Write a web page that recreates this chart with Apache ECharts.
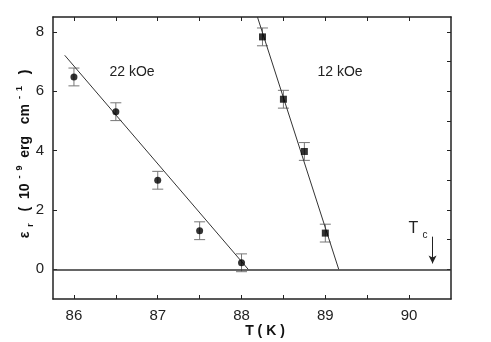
<!DOCTYPE html>
<html>
<head>
<meta charset="utf-8">
<script src="https://cdn.jsdelivr.net/npm/echarts@6/dist/echarts.min.js"></script>
<style>
  html, body { margin: 0; padding: 0; background: #fff; }
  #chart { width: 491px; height: 342px; }
</style>
</head>
<body>
<div id="chart"></div>
<script>
// 22 kOe 数据 (圆点)
const temp22 = [86, 86.5, 87, 87.5, 88];
const eps22 = [6.48, 5.31, 3.0, 1.3, 0.22];
const err22 = [0.3, 0.3, 0.3, 0.3, 0.3];
// 12 kOe 数据 (方块)
const temp12 = [88.25, 88.5, 88.75, 89];
const eps12 = [7.83, 5.73, 3.97, 1.22];
const err12 = [0.3, 0.3, 0.3, 0.3];
// 拟合直线端点
const fit22T = [85.89, 88.08];
const fit22V = [7.21, 0];
const fit12T = [88.19, 89.16];
const fit12V = [8.5, 0];
// Tc 位置
const tcT = 90.28;
// 刻度
const xLabels = [86, 87, 88, 89, 90];
const xTicks = [86, 86.5, 87, 87.5, 88, 88.5, 89, 89.5, 90];
const yLabels = [0, 2, 4, 6, 8];
const yTicksRight = [0, 1, 2, 3, 4, 5, 6, 7, 8];

const chart = echarts.init(document.getElementById('chart'));
const font = 'Liberation Sans, Arial, sans-serif';

// 误差棒
function errorSeries(temps, vals, errs) {
  return {
    type: 'custom',
    data: temps.map((t, i) => [t, vals[i] - errs[i], vals[i] + errs[i]]),
    renderItem: (params, api) => {
      const lo = api.coord([api.value(0), api.value(1)]);
      const hi = api.coord([api.value(0), api.value(2)]);
      const w = 5.5;
      const style = { stroke: '#777', lineWidth: 1 };
      return {
        type: 'group',
        children: [
          { type: 'line', shape: { x1: lo[0], y1: lo[1], x2: hi[0], y2: hi[1] }, style },
          { type: 'line', shape: { x1: lo[0] - w, y1: lo[1], x2: lo[0] + w, y2: lo[1] }, style },
          { type: 'line', shape: { x1: hi[0] - w, y1: hi[1], x2: hi[0] + w, y2: hi[1] }, style },
        ],
      };
    },
    z: 2,
    silent: true,
  };
}

const axisLine = { show: true, onZero: false, lineStyle: { color: '#222', width: 1.5 } };

const option = {
  animation: false,
  grid: { left: 53, right: 40, top: 17, bottom: 43 },
  xAxis: [
    {
      type: 'value', min: 85.75, max: 90.5, position: 'bottom',
      axisLine,
      splitLine: { show: false },
      axisTick: { inside: true, length: 4, customValues: xTicks, lineStyle: { color: '#222' } },
      axisLabel: { customValues: xLabels, color: '#222', fontSize: 15, fontFamily: font, margin: 9 },
    },
    {
      type: 'value', min: 85.75, max: 90.5, position: 'top',
      axisLine,
      splitLine: { show: false },
      axisTick: { inside: true, length: 4, customValues: xTicks, lineStyle: { color: '#222' } },
      axisLabel: { show: false },
    },
  ],
  yAxis: [
    {
      type: 'value', min: -1, max: 8.5, position: 'left',
      axisLine,
      splitLine: { show: false },
      axisTick: { inside: true, length: 4, customValues: yLabels, lineStyle: { color: '#222' } },
      axisLabel: { customValues: yLabels, color: '#222', fontSize: 15, fontFamily: font, margin: 9 },
    },
    {
      type: 'value', min: -1, max: 8.5, position: 'right',
      axisLine,
      splitLine: { show: false },
      axisTick: { inside: true, length: 4, customValues: yTicksRight, lineStyle: { color: '#222' } },
      axisLabel: { show: false },
    },
  ],
  series: [
    errorSeries(temp22, eps22, err22),
    errorSeries(temp12, eps12, err12),
    {
      type: 'scatter', symbol: 'circle', symbolSize: 7,
      itemStyle: { color: '#000' },
      data: temp22.map((t, i) => [t, eps22[i]]),
      z: 3,
    },
    {
      type: 'scatter', symbol: 'rect', symbolSize: 7,
      itemStyle: { color: '#000' },
      data: temp12.map((t, i) => [t, eps12[i]]),
      z: 3,
    },
    {
      type: 'line', showSymbol: false, silent: true,
      lineStyle: { color: '#333', width: 1 },
      data: fit22T.map((t, i) => [t, fit22V[i]]),
      markLine: {
        silent: true, symbol: ['none', 'none'], label: { show: false },
        lineStyle: { color: '#333', width: 1.5, type: 'solid' },
        data: [{ yAxis: 0 }],
      },
    },
    {
      type: 'line', showSymbol: false, silent: true,
      lineStyle: { color: '#333', width: 1 },
      data: fit12T.map((t, i) => [t, fit12V[i]]),
      markLine: {
        silent: true, symbol: ['none', 'arrow'], symbolSize: [6, 8], label: { show: false },
        lineStyle: { color: '#222', width: 1, type: 'solid' },
        data: [[{ coord: [tcT, 1.1] }, { coord: [tcT, 0.2] }]],
      },
    },
  ],
  graphic: [
    { type: 'text', x: 132, y: 72, style: { text: '22 kOe', font: '14px ' + font, fill: '#222', textAlign: 'center', textVerticalAlign: 'middle' } },
    { type: 'text', x: 340, y: 72, style: { text: '12 kOe', font: '14px ' + font, fill: '#222', textAlign: 'center', textVerticalAlign: 'middle' } },
    {
      type: 'text', x: 418, y: 229,
      style: {
        text: '{t|T}{s|c}', textAlign: 'center', textVerticalAlign: 'middle',
        rich: {
          t: { font: '16px ' + font, fill: '#222', verticalAlign: 'middle', lineHeight: 22 },
          s: { font: '10px ' + font, fill: '#222', verticalAlign: 'bottom', lineHeight: 22, padding: [0, 0, 0, 4] },
        },
      },
    },
    { type: 'text', x: 265, y: 331, style: { text: 'T ( K )', font: 'bold 14px ' + font, fill: '#111', textAlign: 'center', textVerticalAlign: 'middle' } },
    {
      type: 'text', x: 25, y: 154, rotation: Math.PI / 2,
      style: {
        text: '{n|ε}{sub|  r}{n|   (  10}{sup|  -  9}{n|  erg   cm}{sup|  -  1}{n|   )}',
        textAlign: 'center', textVerticalAlign: 'middle',
        rich: {
          n: { font: 'bold 14px ' + font, fill: '#111', verticalAlign: 'middle', lineHeight: 20 },
          sub: { font: 'bold 9px ' + font, fill: '#111', verticalAlign: 'bottom', lineHeight: 20 },
          sup: { font: 'bold 9px ' + font, fill: '#111', verticalAlign: 'top', lineHeight: 20 },
        },
      },
    },
  ],
};

chart.setOption(option);
</script>
</body>
</html>
